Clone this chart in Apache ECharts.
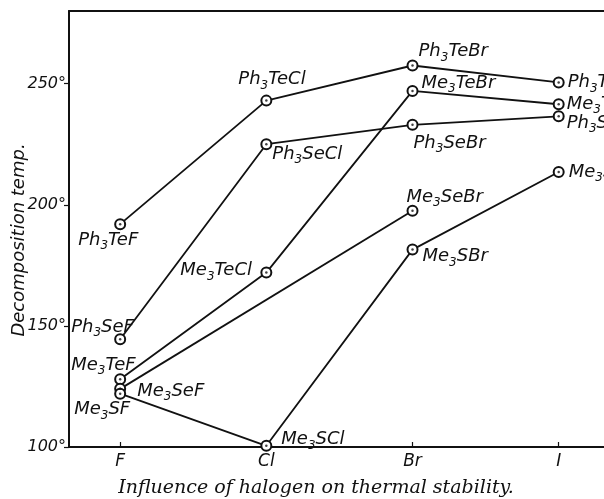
<!DOCTYPE html>
<html>
<head>
<meta charset="utf-8">
<script src="https://cdn.jsdelivr.net/npm/echarts@6/dist/echarts.min.js"></script>
<style>
  html, body { margin: 0; padding: 0; background: #fff; }
  #chart { width: 604px; height: 499px; }
</style>
</head>
<body>
<div id="chart"></div>
<script>
// halogen on the x axis, temperature ticks on the y axis
const halogens = ['F', 'Cl', 'Br', 'I']
const yTicks = [100, 150, 200, 250]

// decomposition temperatures, null = no point
const ph3Te = [192, 243, 257.5, 250.5]
const ph3Se = [144.5, 225, 233, 236.5]
const me3Te = [128, 172, 247, 241.5]
const me3Se = [124, null, 197.5, null]
const me3S = [122, 100.5, 181.5, 213.5]

const groups = [
  { prefix: 'Ph3Te', values: ph3Te },
  { prefix: 'Ph3Se', values: ph3Se },
  { prefix: 'Me3Te', values: me3Te },
  { prefix: 'Me3Se', values: me3Se },
  { prefix: 'Me3S', values: me3S }
]

// label placement: [dx to text left edge, dy to text middle], per group and halogen
const labelOffsets = [
  [[-42, 16], [-28, -21], [6, -14], [9, 0]],
  [[-49, -12], [6, 10], [1, 18], [8, 7]],
  [[-49, -14], [-86, -2], [9, -8], [8, 0]],
  [[17, 2], null, [-6, -14], null],
  [[-46, 16], [15, -6], [10, 7], [10, 0]]
]

// 'Ph3TeCl' -> rich text with subscript 3
function richName(name) {
  return name.split(/(3)/).filter(s => s).map(s => s === '3' ? '{s|3}' : '{n|' + s + '}').join('')
}

const labelFont = '"DejaVu Sans", sans-serif'

const series = []
groups.forEach((g, gi) => {
  const data = []
  g.values.forEach((v, i) => {
    if (v === null) return
    data.push({
      value: [i, v],
      name: g.prefix + halogens[i],
      label: { offset: labelOffsets[gi][i] }
    })
  })
  series.push({
    type: 'line',
    data: data,
    symbol: 'emptyCircle',
    symbolSize: 10,
    showAllSymbol: true,
    lineStyle: { color: '#111', width: 1.8 },
    itemStyle: { color: '#111', borderWidth: 1.4 },
    label: {
      show: true,
      position: 'inside',
      align: 'left',
      verticalAlign: 'middle',
      formatter: p => richName(p.name),
      rich: {
        n: { fontSize: 18, fontStyle: 'italic', fontFamily: labelFont, color: '#111', lineHeight: 24 },
        s: { fontSize: 12, fontStyle: 'italic', fontFamily: labelFont, color: '#111', lineHeight: 24, verticalAlign: 'bottom' }
      }
    },
    emphasis: { disabled: true },
    z: 2
  })
  // centre dots of the ringed markers
  series.push({
    type: 'scatter',
    data: data.map(d => d.value),
    symbol: 'circle',
    symbolSize: 2.5,
    itemStyle: { color: '#111' },
    silent: true,
    z: 3
  })
})

const chart = echarts.init(document.getElementById('chart'), null, { renderer: 'canvas' })
chart.setOption({
  animation: false,
  backgroundColor: '#fff',
  grid: { left: 69, right: 0, top: 11, bottom: 52 },
  xAxis: [
    {
      type: 'value',
      min: -0.35,
      max: 3.31,
      position: 'bottom',
      axisLine: { onZero: false, lineStyle: { color: '#111', width: 2 } },
      axisTick: { inside: true, length: 5, customValues: [0, 1, 2, 3], lineStyle: { color: '#111', width: 1.2 } },
      axisLabel: {
        customValues: [0, 1, 2, 3],
        formatter: v => halogens[v],
        fontStyle: 'italic',
        fontFamily: labelFont,
        fontSize: 17,
        color: '#111',
        margin: 6
      },
      splitLine: { show: false }
    },
    {
      type: 'value',
      min: -0.35,
      max: 3.31,
      position: 'top',
      axisLine: { onZero: false, lineStyle: { color: '#111', width: 2 } },
      axisTick: { show: false },
      axisLabel: { show: false },
      splitLine: { show: false }
    }
  ],
  yAxis: {
    type: 'value',
    min: 100,
    max: 280,
    axisLine: { show: true, onZero: false, lineStyle: { color: '#111', width: 2 } },
    axisTick: { show: true, length: 5, customValues: yTicks, lineStyle: { color: '#111', width: 1.2 } },
    axisLabel: {
      customValues: yTicks,
      formatter: v => v + '°',
      fontStyle: 'italic',
      fontFamily: labelFont,
      fontSize: 16,
      color: '#111',
      margin: 3
    },
    splitLine: { show: false }
  },
  graphic: [
    {
      type: 'text',
      x: 19,
      y: 240,
      rotation: Math.PI / 2,
      style: {
        text: 'Decomposition temp.',
        font: 'italic 18px "DejaVu Sans", sans-serif',
        fill: '#111',
        align: 'center',
        verticalAlign: 'middle'
      }
    },
    {
      type: 'text',
      x: 316,
      y: 488,
      style: {
        text: 'Influence of halogen on thermal stability.',
        font: 'italic 19px "DejaVu Serif", serif',
        fill: '#111',
        align: 'center',
        verticalAlign: 'middle'
      }
    }
  ],
  series: series
})
</script>
</body>
</html>
